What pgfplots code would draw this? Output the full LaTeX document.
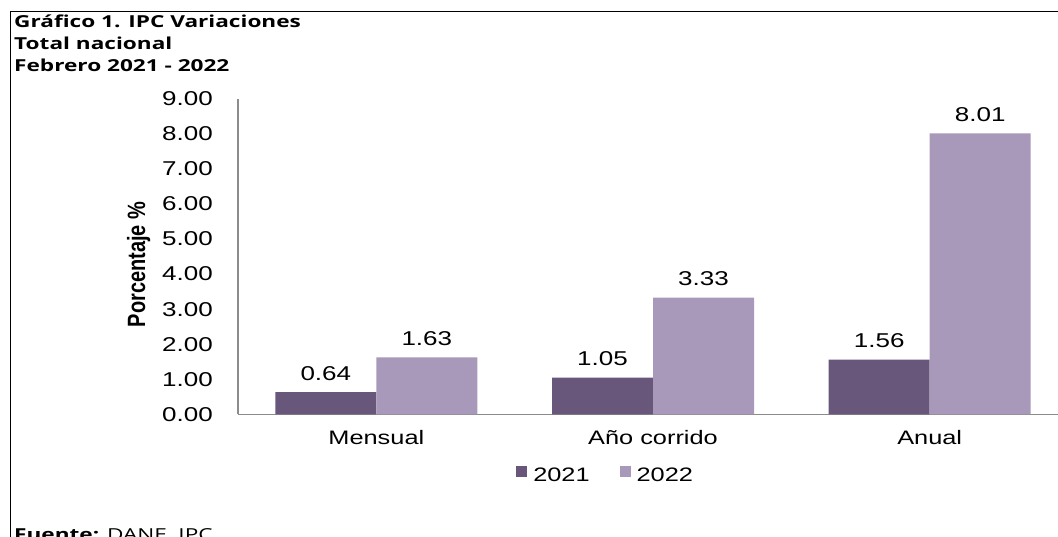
\documentclass[border=0pt]{standalone}
\usepackage{fontspec}
\usepackage{pgfplots}
\pgfplotsset{compat=1.18}
\setmainfont{Liberation Sans}[FakeStretch=1.3]
\newfontfamily\titlefont{Open Sans}[FakeStretch=1.37]
\newfontfamily\ylabfont{Liberation Sans}[FakeStretch=0.8]

\definecolor{c2021}{RGB}{104,86,123}
\definecolor{c2022}{RGB}{168,152,185}
\definecolor{axisgray}{RGB}{140,140,140}

\begin{document}
\begin{tikzpicture}
\useasboundingbox (0pt,0pt) rectangle (1058pt,537pt);

% frame (top and left only, the rest is cut off)
\draw[line width=1.8pt] (10.5pt,0pt) -- (10.5pt,525.5pt) -- (1060pt,525.5pt);

% titles
\node[anchor=base west, inner sep=0pt, font=\titlefont\bfseries\fontsize{16.5}{18}\selectfont] at (14pt,509.3pt) {Gráfico 1. IPC Variaciones};
\node[anchor=base west, inner sep=0pt, font=\titlefont\bfseries\fontsize{16.5}{18}\selectfont] at (14pt,487pt) {Total nacional};
\node[anchor=base west, inner sep=0pt, font=\titlefont\bfseries\fontsize{16.5}{18}\selectfont] at (14pt,465pt) {Febrero 2021 - 2022};
\node[anchor=base west, inner sep=0pt, font=\titlefont\fontsize{16.5}{18}\selectfont] at (14pt,-4pt) {\textbf{Fuente:} DANE, IPC};

% y label
\node[rotate=90, anchor=base, inner sep=0pt, font=\ylabfont\bfseries\fontsize{25}{28}\selectfont] at (145pt,272.5pt) {Porcentaje \%};

\begin{axis}[
    at={(238pt,122.5pt)}, anchor=south west,
    scale only axis,
    width=830pt, height=315.9pt,
    ybar=0pt, bar width=101pt,
    xmin=-0.5, xmax=2.5, ymin=0, ymax=9,
    enlargelimits=false,
    axis x line*=bottom, axis y line*=left,
    axis line style={draw=axisgray, line width=1.4pt},
    major tick length=0pt,
    xtick=data,
    xticklabels={Mensual, Año corrido, Anual},
    ytick={0,1,...,9},
    /pgf/number format/.cd, fixed, fixed zerofill, precision=2, assume math mode=true,
    /pgfplots/.cd,
    yticklabel style={font=\fontsize{20}{22}\selectfont, inner sep=0pt, anchor=east, xshift=-25pt},
    xticklabel style={font=\fontsize{19.5}{22}\selectfont, inner sep=0pt, anchor=base, yshift=-30.5pt},
    nodes near coords,
    nodes near coords style={font=\fontsize{20}{22}\selectfont, inner sep=0pt, anchor=base, yshift=12pt,
        /pgf/number format/.cd, fixed, fixed zerofill, precision=2, assume math mode=true},
    legend columns=2,
    legend style={draw=none, fill=none, inner sep=0pt, at={(0.335,-0.19)}, anchor=west,
        font=\fontsize{19.5}{22}\selectfont,
        nodes={inner sep=0pt},
        /tikz/column sep=6pt,
        /tikz/every even column/.append style={column sep=30pt}},
    legend image code/.code={\fill[#1] (0pt,-2.5pt) rectangle (11pt,8.5pt);},
]
\addplot[fill=c2021, draw=none] coordinates {(0,0.64) (1,1.05) (2,1.56)};
\addplot[fill=c2022, draw=none] coordinates {(0,1.63) (1,3.33) (2,8.01)};
\legend{2021,2022}
\end{axis}
\end{tikzpicture}
\end{document}
